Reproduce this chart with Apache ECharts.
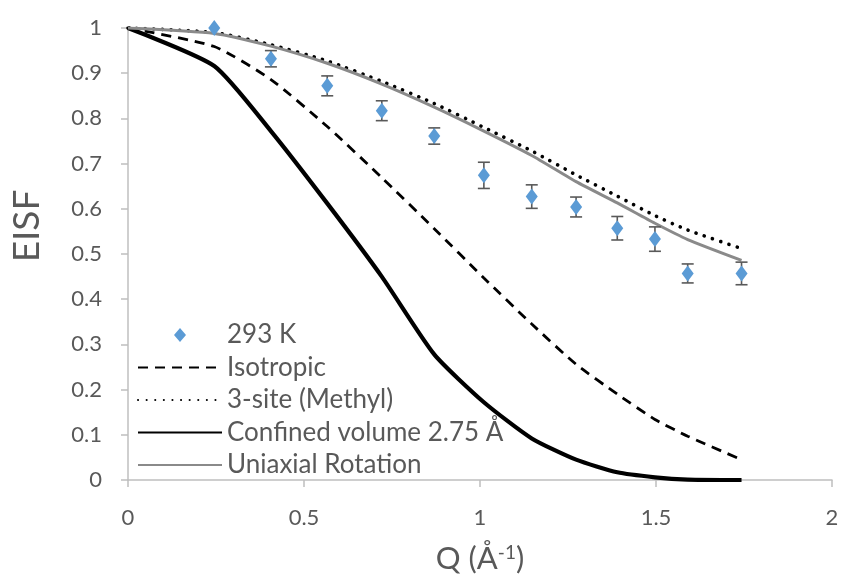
<!DOCTYPE html>
<html>
<head>
<meta charset="utf-8">
<script src="https://cdn.jsdelivr.net/npm/echarts@6/dist/echarts.min.js"></script>
<style>
html, body { margin: 0; padding: 0; background: #fff; }
#chart-container { width: 842px; height: 579px; }
</style>
</head>
<body>
<div id="chart-container"></div>
<script>
// Q points of the model curves
var qLine = [0, 0.245, 0.406, 0.566, 0.721, 0.870, 1.011, 1.147, 1.273, 1.390, 1.497, 1.590, 1.743];
var isotropic = [1, 0.959, 0.886, 0.782, 0.669, 0.556, 0.447, 0.345, 0.256, 0.19, 0.134, 0.097, 0.045];
var methyl3site = [1, 0.99, 0.963, 0.927, 0.882, 0.833, 0.78, 0.728, 0.675, 0.628, 0.585, 0.553, 0.512];
var confined = [1, 0.916, 0.772, 0.612, 0.45, 0.278, 0.172, 0.092, 0.045, 0.017, 0.006, 0.001, 0];
var uniaxial = [1, 0.988, 0.96, 0.922, 0.876, 0.825, 0.772, 0.718, 0.66, 0.613, 0.568, 0.532, 0.486];

// measured EISF at 293 K
var qData = [0.245, 0.406, 0.566, 0.721, 0.870, 1.011, 1.147, 1.273, 1.390, 1.497, 1.590, 1.743];
var eisf293 = [1.0, 0.932, 0.872, 0.817, 0.761, 0.674, 0.627, 0.604, 0.557, 0.533, 0.457, 0.457];
var eisfErr = [0, 0.018, 0.022, 0.022, 0.018, 0.029, 0.026, 0.022, 0.026, 0.027, 0.021, 0.025];

var seriesNames = ['293 K', 'Isotropic', '3-site (Methyl)', 'Confined volume 2.75 Å', 'Uniaxial Rotation'];

(function () {
    var domChart = document.getElementById('chart-container');
    var ioChart = echarts.init(domChart, null, { renderer: 'canvas' });
    var txtColor = '#595959';
    var axisColor = '#bfbfbf';
    var font = 'Lato, "Open Sans", sans-serif';
    var hideSym = { opacity: 0 };

    function pairs(xs, ys) {
        var out = [];
        for (var i = 0; i < xs.length; i++) {
            out.push([xs[i], ys[i]]);
        }
        return out;
    }

    var errData = [];
    for (var i = 0; i < qData.length; i++) {
        errData.push([qData[i], eisf293[i] - eisfErr[i], eisf293[i] + eisfErr[i]]);
    }

    function renderErr(params, api) {
        var lo = api.coord([api.value(0), api.value(1)]);
        var hi = api.coord([api.value(0), api.value(2)]);
        if (Math.abs(hi[1] - lo[1]) < 1) return;
        var cap = 6;
        var st = { stroke: '#595959', lineWidth: 1.6 };
        return {
            type: 'group',
            children: [
                { type: 'line', shape: { x1: lo[0], y1: lo[1], x2: hi[0], y2: hi[1] }, style: st },
                { type: 'line', shape: { x1: lo[0] - cap, y1: lo[1], x2: lo[0] + cap, y2: lo[1] }, style: st },
                { type: 'line', shape: { x1: hi[0] - cap, y1: hi[1], x2: hi[0] + cap, y2: hi[1] }, style: st }
            ]
        };
    }

    var chartOption = {
        backgroundColor: '#ffffff',
        animation: false,
        textStyle: { fontFamily: font },
        grid: {
            left: 128,
            right: 10,
            top: 28,
            bottom: 97
        },
        legend: {
            orient: 'vertical',
            left: 137,
            top: 322,
            padding: 0,
            itemWidth: 84,
            itemHeight: 14,
            itemGap: 6.5,
            data: [
                { name: seriesNames[0], icon: 'path://M6,0 L12,7 L6,14 L0,7 Z' },
                { name: seriesNames[1], itemStyle: hideSym },
                { name: seriesNames[2], itemStyle: hideSym },
                { name: seriesNames[3], itemStyle: hideSym },
                { name: seriesNames[4], itemStyle: hideSym }
            ],
            textStyle: {
                color: txtColor,
                fontSize: 26,
                lineHeight: 26,
                fontFamily: font
            }
        },
        xAxis: {
            type: 'value',
            min: 0,
            max: 2,
            interval: 0.5,
            name: 'Q (Å{sup|-1})',
            nameLocation: 'middle',
            nameGap: 63,
            nameTextStyle: {
                color: txtColor,
                fontSize: 31,
                fontFamily: font,
                rich: {
                    sup: { fontSize: 19, color: txtColor, verticalAlign: 'top', fontFamily: font }
                }
            },
            axisLine: { show: true, lineStyle: { color: axisColor, width: 1.5 } },
            axisTick: { show: true, length: 7, lineStyle: { color: axisColor, width: 1.5 } },
            axisLabel: { color: txtColor, fontSize: 22, margin: 27, fontFamily: font },
            splitLine: { show: false }
        },
        yAxis: {
            type: 'value',
            min: 0,
            max: 1,
            interval: 0.1,
            name: 'EISF',
            nameLocation: 'middle',
            nameGap: 82,
            nameTextStyle: { color: txtColor, fontSize: 37, fontFamily: font, padding: [0, 0, 0, 56] },
            axisLine: { show: true, lineStyle: { color: axisColor, width: 1.5 } },
            axisTick: { show: true, length: 7, lineStyle: { color: axisColor, width: 1.5 } },
            axisLabel: { color: txtColor, fontSize: 22, margin: 26, fontFamily: font },
            splitLine: { show: false }
        },
        series: [
            {
                name: seriesNames[1],
                type: 'line',
                symbol: 'none',
                smooth: 0.2,
                z: 3,
                data: pairs(qLine, isotropic),
                itemStyle: { color: '#000000' },
                lineStyle: { color: '#000000', width: 2.8, type: [10, 7] }
            },
            {
                name: seriesNames[2],
                type: 'line',
                symbol: 'none',
                smooth: 0.2,
                z: 3,
                data: pairs(qLine, methyl3site),
                itemStyle: { color: '#000000' },
                lineStyle: { color: '#000000', width: 3.6, type: [0.1, 8.5], cap: 'round' }
            },
            {
                name: seriesNames[3],
                type: 'line',
                symbol: 'none',
                smooth: 0.2,
                z: 3,
                data: pairs(qLine, confined),
                itemStyle: { color: '#000000' },
                lineStyle: { color: '#000000', width: 4.2 }
            },
            {
                name: seriesNames[4],
                type: 'line',
                symbol: 'none',
                smooth: 0.2,
                z: 4,
                data: pairs(qLine, uniaxial),
                itemStyle: { color: '#8a8a8a' },
                lineStyle: { color: '#8a8a8a', width: 3 }
            },
            {
                name: seriesNames[0] + ' err',
                type: 'custom',
                renderItem: renderErr,
                z: 5,
                encode: { x: 0, y: [1, 2] },
                data: errData
            },
            {
                name: seriesNames[0],
                type: 'scatter',
                symbol: 'diamond',
                symbolSize: [12, 16],
                z: 6,
                data: pairs(qData, eisf293),
                itemStyle: { color: '#5b9bd5', opacity: 1 }
            }
        ]
    };
    ioChart.setOption(chartOption);
})();
</script>
</body>
</html>
